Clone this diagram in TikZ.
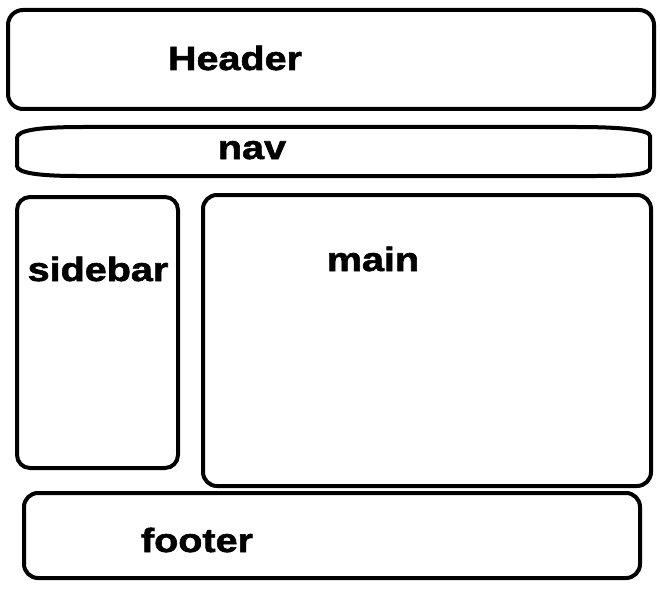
\documentclass[tikz,border=0pt]{standalone}
\usepackage{fontspec}
\setmainfont{Liberation Sans}[FakeStretch=1.18,BoldFeatures={FakeBold=1.8}]
\begin{document}
\begin{tikzpicture}[x=1pt,y=-1pt,
  box/.style={line width=4pt, rounded corners=14pt},
  lab/.style={anchor=base, inner sep=0pt, font=\fontsize{33.5}{38}\selectfont\bfseries}]
\useasboundingbox[fill=white] (0,0) rectangle (660,596);
% header
\draw[box, rounded corners=15pt] (8,10) rectangle (654,109);
% nav
\draw[line width=4pt] (17,138) -- (17,166)
  .. controls (17,173) and (40,176) .. (77,176) -- (597,176)
  .. controls (632,176) and (650,174) .. (650,168) -- (650,136)
  .. controls (650,130) and (622,127) .. (577,127) -- (83,127)
  .. controls (40,127) and (17,130) .. (17,138) -- cycle;
% sidebar
\draw[box, rounded corners=13pt] (17,197) rectangle (178,468);
% main
\draw[box] (203,195) rectangle (651,486);
% footer
\draw[box] (24,493) rectangle (640,578);
% labels
\node[lab] (header) at (235,70) {Header};
\node[lab] (nav) at (252,159) {nav};
\node[lab] (sidebar) at (98,281) {sidebar};
\node[lab] (main) at (373,271) {main};
\node[lab] (footer) at (197,552) {footer};
\end{tikzpicture}
\end{document}
